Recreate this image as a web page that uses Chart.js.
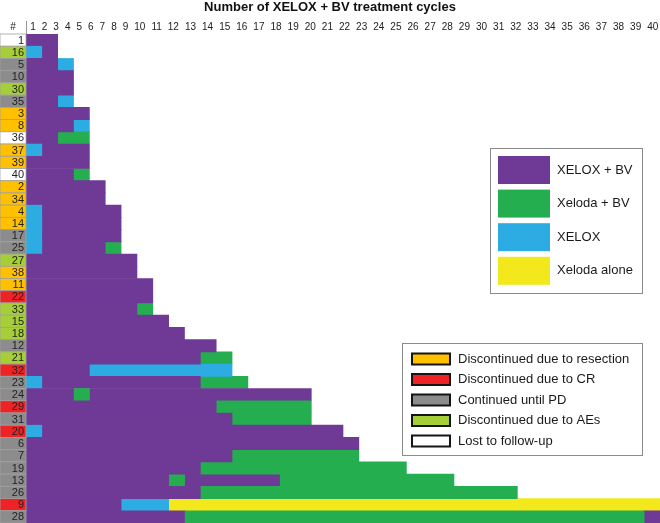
<!DOCTYPE html>
<html>
<head>
<meta charset="utf-8">
<script src="https://cdn.jsdelivr.net/npm/chart.js@4"></script>
<style>
  html, body { margin: 0; padding: 0; background: #fff; }
  #wrap { width: 660px; height: 523px; }
</style>
</head>
<body>
<div id="wrap"><canvas id="swimmer" width="660" height="523"></canvas></div>
<script>
// patients, top to bottom
const patients = ["1", "16", "5", "10", "30", "35", "3", "8", "36", "37", "39", "40", "2", "34",
  "4", "14", "17", "25", "27", "38", "11", "22", "33", "15", "18", "12", "21", "32", "23", "24",
  "29", "31", "20", "6", "7", "19", "13", "26", "9", "28"];

// why treatment stopped: res / cr / pd / ae / lost
const outcomes = ["lost", "ae", "pd", "pd", "ae", "pd", "res", "res", "lost", "res", "res", "lost",
  "res", "res", "res", "res", "pd", "pd", "ae", "res", "res", "cr", "ae", "ae", "ae", "pd", "ae",
  "cr", "pd", "pd", "cr", "pd", "cr", "pd", "pd", "pd", "pd", "pd", "cr", "pd"];

// cycles per patient as runs: P = XELOX+BV, G = Xeloda+BV, B = XELOX, Y = Xeloda alone
const regimens = ["P2", "B1 P1", "P2 B1", "P3", "P3", "P2 B1", "P4", "P3 B1", "P2 G2", "B1 P3",
  "P4", "P3 G1", "P5", "P5", "B1 P5", "B1 P5", "B1 P5", "B1 P4 G1", "P7", "P7", "P8", "P8",
  "P7 G1", "P9", "P10", "P12", "P11 G2", "P4 B9", "B1 P10 G3", "P3 G1 P14", "P12 G6", "P13 G5",
  "B1 P19", "P21", "P13 G8", "P11 G13", "P9 G1 P6 G11", "P11 G20", "P6 B3 Y31", "P10 G29 P1"];

const cycleLabels = ["1", "2", "3", "4", "5", "6", "7", "8", "9", "10", "11", "12", "13", "14",
  "15", "16", "17", "18", "19", "20", "21", "22", "23", "24", "25", "26", "27", "28", "29", "30",
  "31", "32", "33", "34", "35", "36", "37", "38", "39", "40"];

const treatmentKeys = ["P", "G", "B", "Y"];
const treatmentNames = ["XELOX + BV", "Xeloda + BV", "XELOX", "Xeloda alone"];
const treatmentColors = ["#6f3996", "#25ae4f", "#2cace2", "#f2e81b"];

const outcomeKeys = ["res", "cr", "pd", "ae", "lost"];
const outcomeNames = ["Discontinued due to resection", "Discontinued due to CR",
  "Continued until PD", "Discontinued due to AEs", "Lost to follow-up"];
const outcomeColors = ["#ffc000", "#ee2326", "#8c8c8c", "#a6ce39", "#ffffff"];

const FONT = "Arial, 'Liberation Sans', sans-serif";

// turn "P3 G1" into [{code, start, end}, ...]
const runs = regimens.map(function (s) {
  let pos = 0;
  return s.split(" ").map(function (tok) {
    const n = parseInt(tok.slice(1), 10);
    const run = { code: tok[0], start: pos, end: pos + n };
    pos += n;
    return run;
  });
});

const maxRuns = Math.max(...runs.map(r => r.length));
const datasets = [];
for (let j = 0; j < maxRuns; j++) {
  datasets.push({
    data: runs.map(r => r[j] ? [r[j].start, r[j].end] : null),
    backgroundColor: runs.map(r => r[j] ? treatmentColors[treatmentKeys.indexOf(r[j].code)] : "transparent"),
    borderWidth: 0,
    barPercentage: 1,
    categoryPercentage: 1,
    grouped: false
  });
}

const decorPlugin = {
  id: "decor",
  afterDraw(chart) {
    const ctx = chart.ctx;
    const yScale = chart.scales.y;
    const top = chart.chartArea.top;
    const left = chart.chartArea.left;
    const rowH = yScale.getPixelForValue(1) - yScale.getPixelForValue(0);

    ctx.save();

    // title
    ctx.fillStyle = "#111";
    ctx.font = "bold 13px " + FONT;
    ctx.textAlign = "center";
    ctx.textBaseline = "middle";
    ctx.fillText("Number of XELOX + BV treatment cycles", 330, 7);

    // header row
    ctx.font = "10px " + FONT;
    ctx.fillStyle = "#222";
    ctx.fillText("#", 13, 27);
    ctx.strokeStyle = "#999";
    ctx.lineWidth = 1;
    ctx.beginPath();
    ctx.moveTo(left + 0.5, 21);
    ctx.lineTo(left + 0.5, top);
    ctx.stroke();

    ctx.textAlign = "left";
    let x = 30.2;
    cycleLabels.forEach(function (lab) {
      ctx.fillText(lab, x, 27);
      x += ctx.measureText(lab).width + 6;
    });

    // patient column
    ctx.font = "11px " + FONT;
    ctx.textAlign = "right";
    patients.forEach(function (p, i) {
      const yc = yScale.getPixelForValue(i);
      const y0 = yc - rowH / 2;
      ctx.fillStyle = outcomeColors[outcomeKeys.indexOf(outcomes[i])];
      ctx.fillRect(0, y0, left, rowH);
      ctx.strokeStyle = "#a0a0a0";
      ctx.lineWidth = 0.8;
      ctx.strokeRect(0, y0, left, rowH);
      ctx.fillStyle = "#222";
      ctx.fillText(p, left - 2, yc + 0.5);
    });

    // treatment legend
    ctx.strokeStyle = "#8a8a8a";
    ctx.lineWidth = 1;
    ctx.strokeRect(490.5, 148.5, 152, 145);
    ctx.font = "13px " + FONT;
    ctx.textAlign = "left";
    treatmentNames.forEach(function (name, i) {
      const y0 = 156 + i * 33.6;
      ctx.fillStyle = treatmentColors[i];
      ctx.fillRect(498, y0, 52, 28);
      ctx.fillStyle = "#1a1a1a";
      ctx.fillText(name, 557, y0 + 14);
    });

    // outcome legend
    ctx.strokeStyle = "#8a8a8a";
    ctx.lineWidth = 1;
    ctx.strokeRect(402.5, 343.5, 240, 112);
    outcomeNames.forEach(function (name, i) {
      const yc = 359 + i * 20.5;
      ctx.fillStyle = outcomeColors[i];
      ctx.fillRect(412, yc - 5.5, 38, 11);
      ctx.strokeStyle = "#151515";
      ctx.lineWidth = 2;
      ctx.strokeRect(412, yc - 5.5, 38, 11);
      ctx.fillStyle = "#1a1a1a";
      ctx.fillText(name, 458, yc);
    });

    ctx.restore();
  }
};

document.addEventListener("DOMContentLoaded", function () {
  new Chart(document.getElementById("swimmer"), {
    type: "bar",
    data: { labels: patients, datasets: datasets },
    options: {
      responsive: false,
      animation: false,
      indexAxis: "y",
      layout: { padding: { top: 34, left: 26, right: 0, bottom: 0 } },
      scales: {
        x: { type: "linear", min: 0, max: 40, display: false },
        y: { display: false }
      },
      plugins: {
        legend: { display: false },
        tooltip: { enabled: false }
      }
    },
    plugins: [decorPlugin]
  });
});
</script>
</body>
</html>
